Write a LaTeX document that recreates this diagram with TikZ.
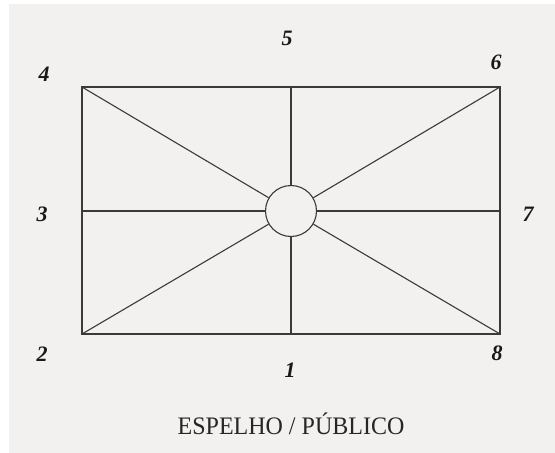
\documentclass[tikz,border=0pt]{standalone}
\usepackage{fontspec}
\setmainfont{Liberation Serif}
\definecolor{bgc}{HTML}{F2F1EF}
\definecolor{linec}{HTML}{3A3A3A}
\tikzset{
  numlabel/.style={font=\fontsize{22}{22}\selectfont\bfseries\itshape, text=black!90, inner sep=0pt},
  edge/.style={draw=linec, line width=1.1pt},
  hub/.style={circle, draw=linec, line width=1.1pt, minimum size=51pt, inner sep=0pt},
}
\begin{document}
\begin{tikzpicture}[x=1pt,y=-1pt]
\useasboundingbox (0,0) rectangle (555,453);
\fill[white] (0,0) rectangle (555,453);
\fill[bgc] (9,4) rectangle (555,453);
% frame corners and midpoints
\coordinate (tl) at (82,87);
\coordinate (tr) at (500,87);
\coordinate (bl) at (82,334);
\coordinate (br) at (500,334);
\coordinate (tm) at (291,87);
\coordinate (bm) at (291,334);
\coordinate (lm) at (82,211);
\coordinate (rm) at (500,211);
\node[hub] (c) at (291,211) {};
\draw[edge] (tl) rectangle (br);
\draw[edge] (tl) -- (c);
\draw[edge] (tr) -- (c);
\draw[edge] (bl) -- (c);
\draw[edge] (br) -- (c);
\draw[edge] (tm) -- (c);
\draw[edge] (bm) -- (c);
\draw[edge] (lm) -- (c);
\draw[edge] (rm) -- (c);
% labels
\node[numlabel] (n4) at (44,74) {4};
\node[numlabel] (n5) at (287,38) {5};
\node[numlabel] (n6) at (496,62) {6};
\node[numlabel] (n3) at (42,214) {3};
\node[numlabel] (n7) at (528,214) {7};
\node[numlabel] (n2) at (42,354) {2};
\node[numlabel] (n1) at (290,370) {1};
\node[numlabel] (n8) at (497,353) {8};
\node[font=\fontsize{24}{24}\selectfont, text=black!85, inner sep=0pt, anchor=base, yscale=1.05] (title) at (291,434) {ESPELHO / PÚBLICO};
\end{tikzpicture}
\end{document}
